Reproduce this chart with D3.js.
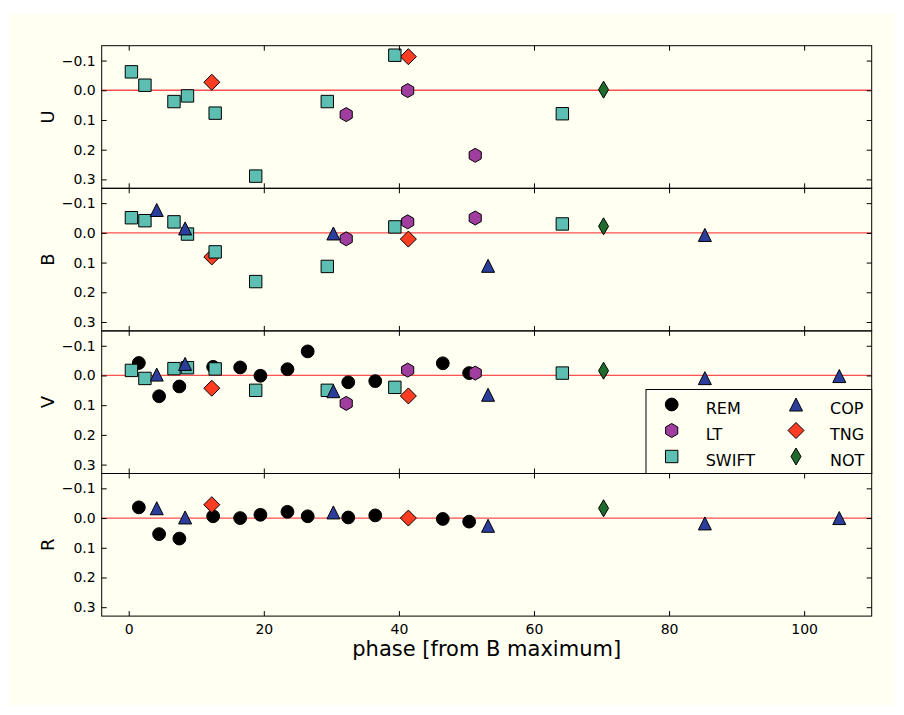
<!DOCTYPE html>
<html>
  <head>
    <script src="https://d3js.org/d3.v7.min.js"></script>
    <style>
      body { margin: 0; background: #ffffff; }
      text { font-family: "DejaVu Sans", sans-serif; }
    </style>
  </head>
  <body>
    <svg id="plot" width="904" height="715"></svg>
    <script>
      // bands and instruments
      const bands = ["U", "B", "V", "R"];
      const xTicks = [0, 20, 40, 60, 80, 100];
      const yTicks = [-0.1, 0.0, 0.1, 0.2, 0.3];

      // REM
      const remPhase = [1.5, 4.5, 7.5, 12.5, 16.5, 19.5, 23.5, 26.5, 32.5, 36.5, 46.5, 50.4];
      const remV = [-0.042, 0.070, 0.037, -0.029, -0.027, 0.001, -0.021, -0.081, 0.023, 0.019, -0.041, -0.008];
      const remR = [-0.036, 0.054, 0.069, -0.006, 0.000, -0.011, -0.021, -0.006, -0.002, -0.009, 0.003, 0.012];

      // LT
      const ltPhase = [32.2, 41.3, 51.3];
      const ltU = [0.082, 0.001, 0.219];
      const ltB = [0.020, -0.037, -0.050];
      const ltV = [0.094, -0.018, -0.008];

      // SWIFT
      const swiftPhase = [0.4, 2.4, 6.7, 8.7, 12.8, 18.8, 29.4, 39.4, 64.2];
      const swiftU = [-0.062, -0.017, 0.038, 0.019, 0.077, 0.289, 0.038, -0.118, 0.079];
      const swiftB = [-0.051, -0.041, -0.037, 0.004, 0.064, 0.164, 0.113, -0.020, -0.030];
      const swiftV = [-0.017, 0.010, -0.023, -0.026, -0.022, 0.050, 0.050, 0.040, -0.008];

      // COP
      const copPhaseB = [4.15, 8.35, 30.3, 53.2, 85.3];
      const copB = [-0.077, -0.015, 0.002, 0.111, 0.007];
      const copPhase = [4.15, 8.35, 30.3, 53.2, 85.3, 105.2];
      const copV = [-0.003, -0.039, 0.053, 0.065, 0.009, 0.002];
      const copR = [-0.033, -0.002, -0.019, 0.026, 0.018, 0.000];

      // TNG
      const tngPhase = [12.3, 41.4];
      const tngU = [-0.027, -0.113];
      const tngB = [0.081, 0.021];
      const tngV = [0.043, 0.069];
      const tngR = [-0.045, 0.000];

      // NOT
      const notPhase = [70.3];
      const notU = [-0.002];
      const notB = [-0.022];
      const notV = [-0.016];
      const notR = [-0.033];

      const pts = (xs, ys) => xs.map((x, i) => [x, ys[i]]);

      const instruments = [
        { name: "REM", color: "#000000", shape: "circle", data: { V: pts(remPhase, remV), R: pts(remPhase, remR) } },
        { name: "LT", color: "#a03ea0", shape: "hexagon", data: { U: pts(ltPhase, ltU), B: pts(ltPhase, ltB), V: pts(ltPhase, ltV) } },
        { name: "SWIFT", color: "#5cbfb2", shape: "square", data: { U: pts(swiftPhase, swiftU), B: pts(swiftPhase, swiftB), V: pts(swiftPhase, swiftV) } },
        { name: "COP", color: "#2c3e9c", shape: "triangle", data: { B: pts(copPhaseB, copB), V: pts(copPhase, copV), R: pts(copPhase, copR) } },
        { name: "TNG", color: "#ff3d22", shape: "diamond", data: { U: pts(tngPhase, tngU), B: pts(tngPhase, tngB), V: pts(tngPhase, tngV), R: pts(tngPhase, tngR) } },
        { name: "NOT", color: "#1f6b2c", shape: "thin", data: { U: pts(notPhase, notU), B: pts(notPhase, notB), V: pts(notPhase, notV), R: pts(notPhase, notR) } }
      ];
      // drawing order differs from legend order
      const drawOrder = ["REM", "TNG", "LT", "SWIFT", "COP", "NOT"];

      function markerPath(shape) {
        switch (shape) {
          case "circle": return d3.symbol(d3.symbolCircle, Math.PI * 6.4 * 6.4)();
          case "square": return "M-6.2,-6.2H6.2V6.2H-6.2Z";
          case "hexagon": {
            const r = 7;
            return d3.range(6).map((k, i) => {
              const a = Math.PI / 3 * k - Math.PI / 2;
              return (i ? "L" : "M") + (r * Math.cos(a)).toFixed(2) + "," + (r * Math.sin(a)).toFixed(2);
            }).join("") + "Z";
          }
          case "triangle": return "M0,-6.5L6.5,6.5L-6.5,6.5Z";
          case "diamond": return "M0,-8L8,0L0,8L-8,0Z";
          case "thin": return "M0,-8.5L5,0L0,8.5L-5,0Z";
        }
      }

      const svg = d3.select("#plot");
      svg.append("rect").attr("x", 10).attr("y", 14).attr("width", 884).attr("height", 691).attr("fill", "#fffff2");

      const plotLeft = 101.7, plotRight = 871.7, plotTop = 45.7, panelH = 142.6;

      const x = d3.scaleLinear().domain([-4, 110]).range([plotLeft, plotRight]);

      bands.forEach((band, bi) => {
        const y0 = plotTop + bi * panelH;
        const y = d3.scaleLinear().domain([-0.15, 0.33]).range([y0, y0 + panelH]);
        const g = svg.append("g");

        // zero line
        g.append("line")
          .attr("x1", plotLeft).attr("x2", plotRight)
          .attr("y1", y(0)).attr("y2", y(0))
          .attr("stroke", "#ff4f4f").attr("stroke-width", 1.3);

        // markers
        drawOrder.forEach(name => {
          const inst = instruments.find(d => d.name === name);
          const data = inst.data[band];
          if (!data) return;
          g.selectAll(null)
            .data(data)
            .enter()
            .append("path")
            .attr("d", markerPath(inst.shape))
            .attr("transform", d => "translate(" + x(d[0]) + "," + y(d[1]) + ")")
            .attr("fill", inst.color)
            .attr("stroke", "#000")
            .attr("stroke-width", 1);
        });

        // axes (ticks pointing in)
        const fmt = d => (d < 0 ? "\u2212" : "") + Math.abs(d).toFixed(1);
        g.append("g").attr("transform", "translate(" + plotLeft + ",0)")
          .call(d3.axisLeft(y).tickValues(yTicks).tickSize(-5).tickPadding(6).tickFormat(fmt));
        g.append("g").attr("transform", "translate(" + plotRight + ",0)")
          .call(d3.axisRight(y).tickValues(yTicks).tickSize(-5).tickFormat(""));
        g.append("g").attr("transform", "translate(0," + y0 + ")")
          .call(d3.axisTop(x).tickValues(xTicks).tickSize(-5).tickFormat(""));
        g.append("g").attr("transform", "translate(0," + (y0 + panelH) + ")")
          .call(d3.axisBottom(x).tickValues(xTicks).tickSize(-5).tickPadding(8)
            .tickFormat(bi === bands.length - 1 ? d3.format("d") : ""));

        g.selectAll(".domain").remove();
        g.selectAll(".tick line").attr("stroke", "#000");
        g.selectAll(".tick text").attr("font-size", 14).attr("fill", "#000")
          .style("font-family", "'DejaVu Sans', sans-serif");

        // frame
        g.append("rect")
          .attr("x", plotLeft).attr("y", y0).attr("width", plotRight - plotLeft).attr("height", panelH)
          .attr("fill", "none").attr("stroke", "#000").attr("stroke-width", 1);

        // band label
        g.append("text")
          .attr("transform", "translate(" + 48 + "," + (y0 + panelH / 2) + ") rotate(-90)")
          .attr("text-anchor", "middle")
          .attr("dy", "0.35em")
          .attr("font-size", 18)
          .text(band);

        // legend in V panel
        if (band === "V") {
          const lx = 646, ly = 389.5, lw = plotRight - lx, lh = y0 + panelH - ly;
          const leg = svg.append("g").attr("id", "legend");
          leg.append("rect")
            .attr("x", lx).attr("y", ly).attr("width", lw).attr("height", lh)
            .attr("fill", "#fffff2").attr("stroke", "#000").attr("stroke-width", 1);
          instruments.forEach((inst, i) => {
            const col = Math.floor(i / 3), row = i % 3;
            const mx = col === 0 ? 671.7 : 796, my = 404.5 + row * 26;
            leg.append("path")
              .attr("d", markerPath(inst.shape))
              .attr("transform", "translate(" + mx + "," + my + ")")
              .attr("fill", inst.color).attr("stroke", "#000").attr("stroke-width", 1);
            leg.append("text")
              .attr("x", mx + 34).attr("y", my + 4)
              .attr("dy", "0.35em")
              .attr("font-size", 16)
              .text(inst.name);
          });
        }
      });

      svg.append("text")
        .attr("x", (plotLeft + plotRight) / 2)
        .attr("y", 656)
        .attr("text-anchor", "middle")
        .attr("font-size", 21)
        .text("phase [from B maximum]");
    </script>
  </body>
</html>
